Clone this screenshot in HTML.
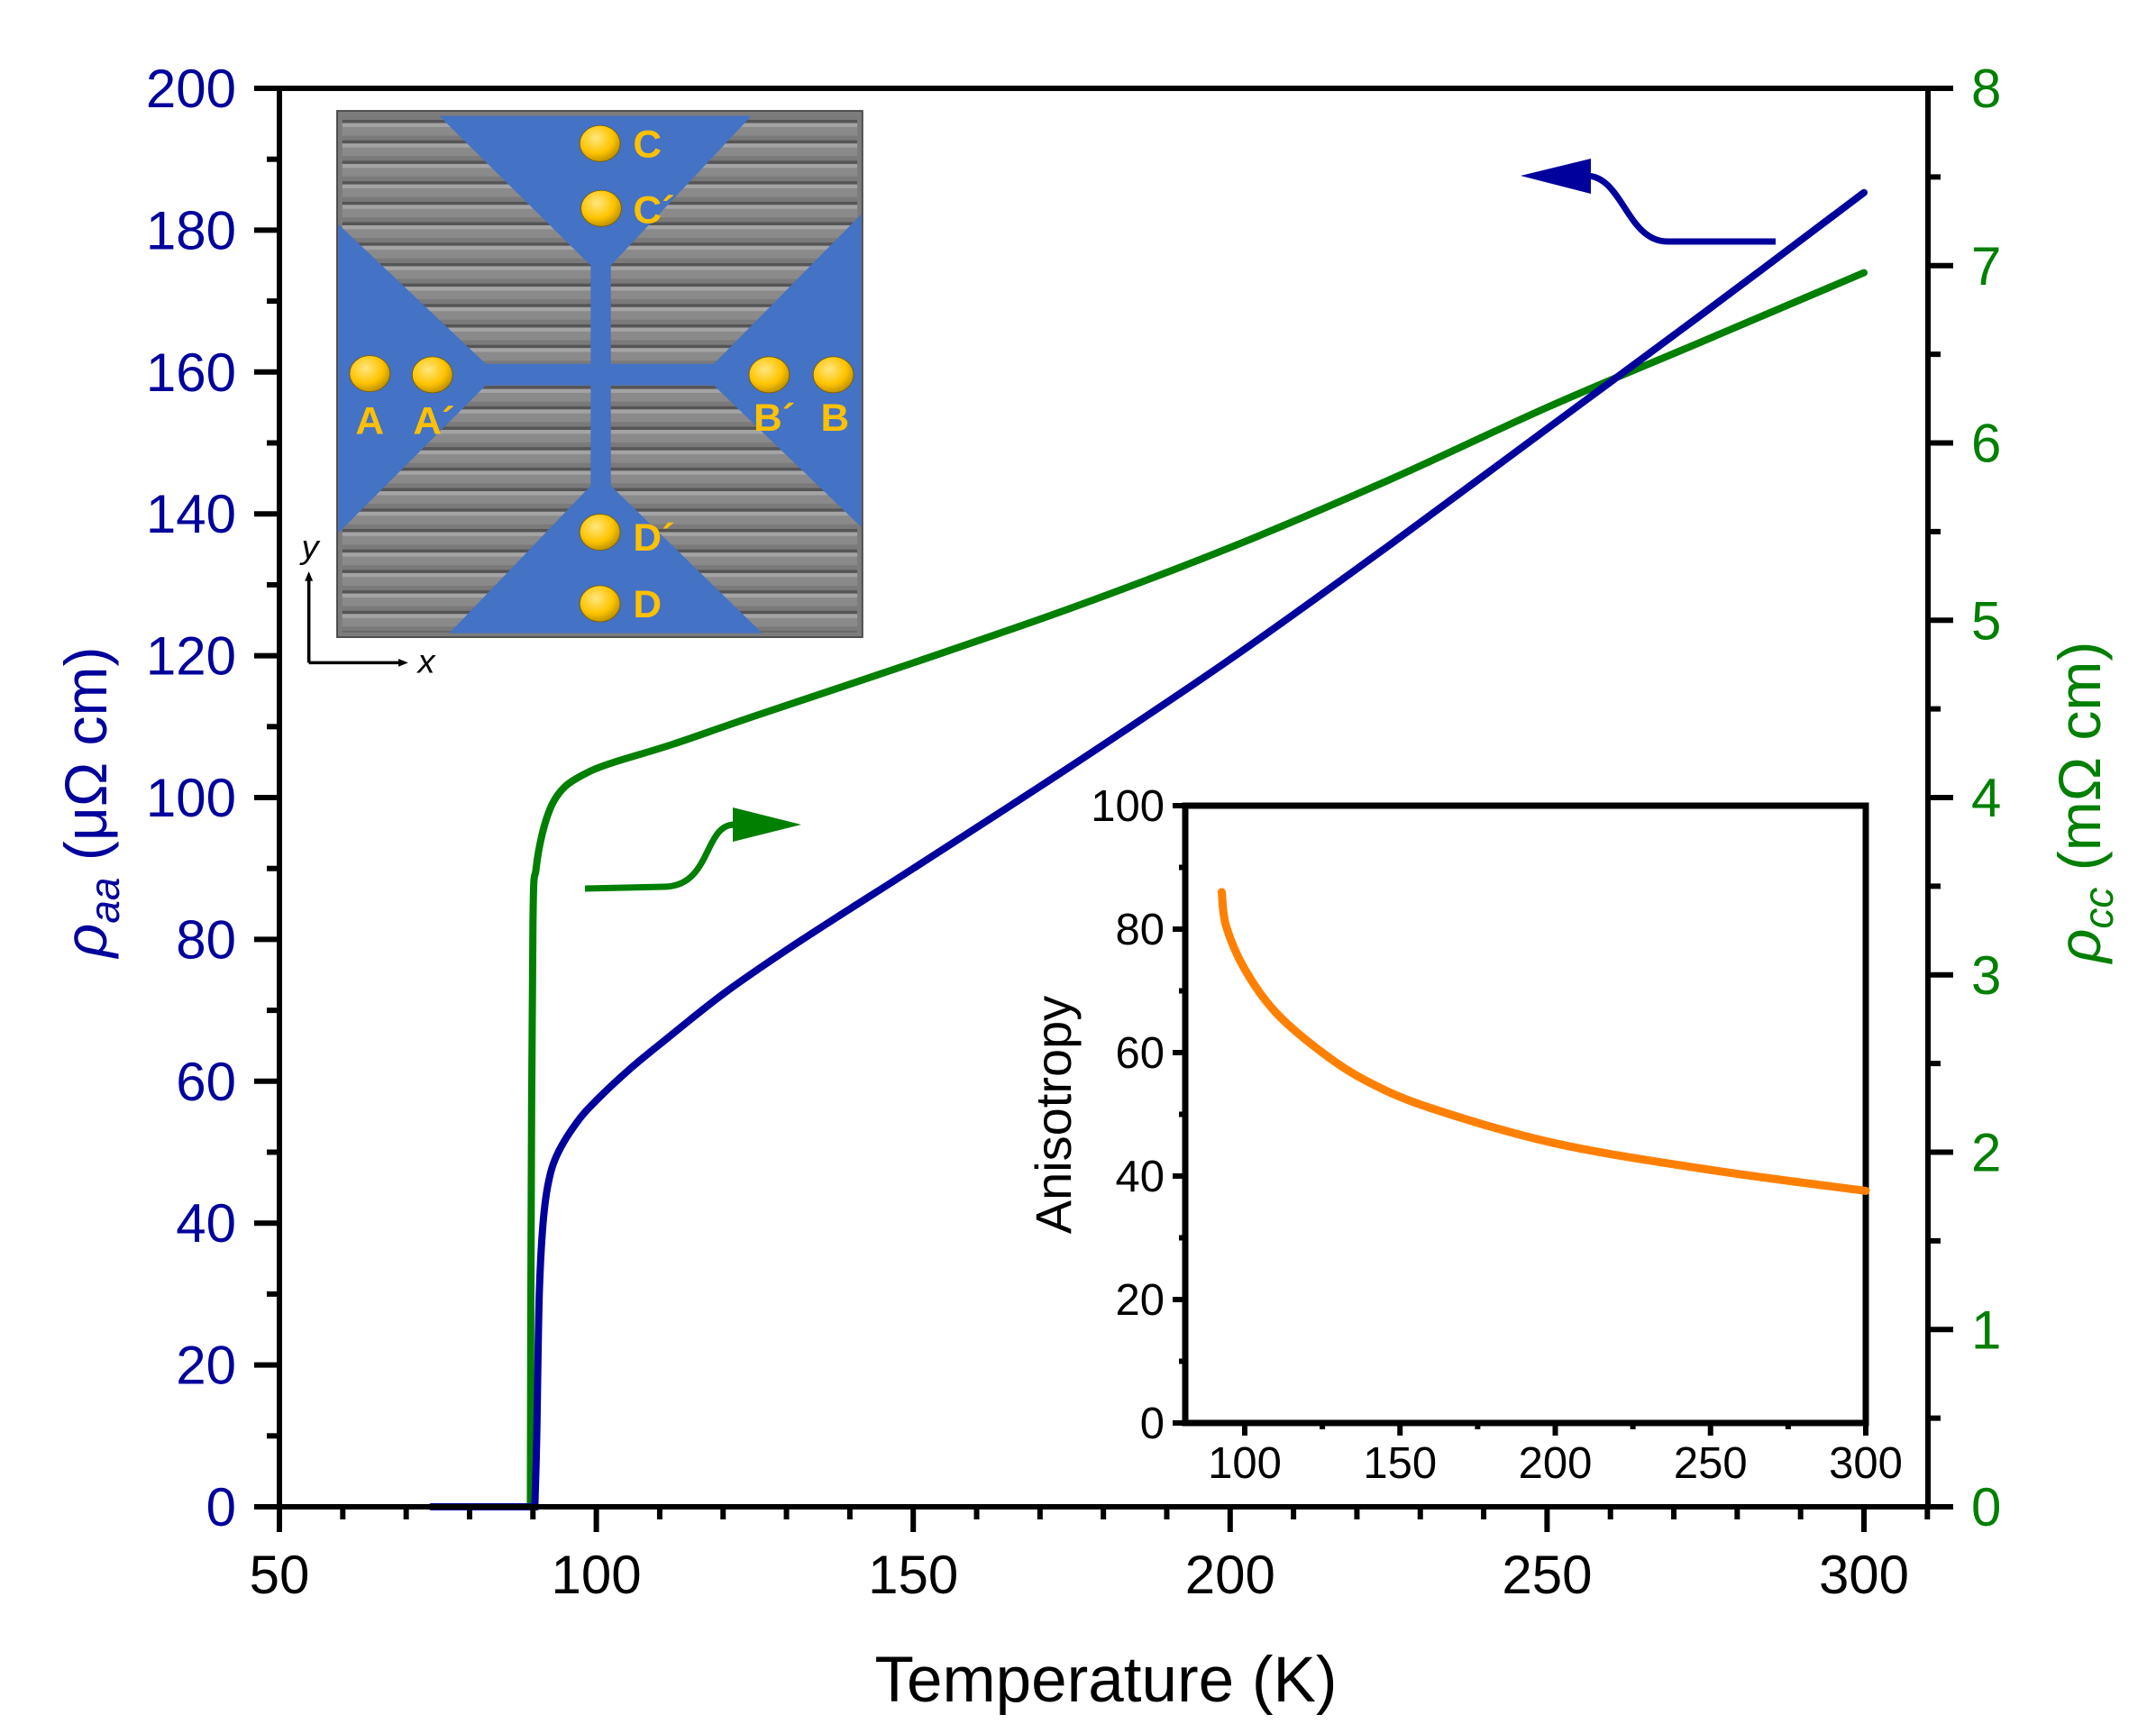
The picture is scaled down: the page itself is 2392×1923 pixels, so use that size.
<!DOCTYPE html>
<html><head><meta charset="utf-8"><style>
html,body{margin:0;padding:0;background:#fff}
svg{display:block}
text{font-family:"Liberation Sans",Arial,sans-serif}
</style></head><body>
<svg id="s" width="2392" height="1923" viewBox="0 0 2392 1923" xmlns="http://www.w3.org/2000/svg">
<defs>
<pattern id="stripes" patternUnits="userSpaceOnUse" x="0" y="120" width="40" height="52">
<rect width="40" height="52" fill="#8a8a8a"/>
<rect y="0" width="40" height="8" fill="#555"/>
<rect y="8" width="40" height="10" fill="#a4a4a4"/>
<rect y="40" width="40" height="12" fill="#7a7a7a"/>
</pattern>
<radialGradient id="gold" cx="0.4" cy="0.35" r="0.7">
<stop offset="0" stop-color="#ffe680"/><stop offset="0.6" stop-color="#ffc400"/><stop offset="1" stop-color="#b58a00"/>
</radialGradient>
</defs>

<g transform="translate(374,123) scale(0.448,0.4365) translate(-162,-97)">
<rect x="162" y="97" width="1301" height="1338" fill="#7c7c7c" stroke="#444" stroke-width="4"/>
<rect x="175" y="110" width="1275" height="1312" fill="url(#stripes)"/>
</g>
<g transform="translate(374,123) scale(0.448,0.4365) translate(-162,-97)" fill="#4472c4">
<polygon points="415,110 1188,110 840,490 790,490"/>
<rect x="790" y="480" width="50" height="580"/>
<polygon points="790,1050 840,1050 1215,1425 440,1425"/>
<polygon points="165,385 530,740 530,795 165,1170"/>
<rect x="520" y="740" width="585" height="55"/>
<polygon points="1460,360 1095,740 1095,795 1460,1155"/>
</g>
<g transform="translate(374,123) scale(0.448,0.4365) translate(-162,-97)">
<g fill="url(#gold)" stroke="#7a6000" stroke-width="2">
<ellipse cx="813" cy="180" rx="50" ry="46"/>
<ellipse cx="816" cy="345" rx="50" ry="46"/>
<ellipse cx="243" cy="765" rx="50" ry="46"/>
<ellipse cx="398" cy="768" rx="50" ry="46"/>
<ellipse cx="1232" cy="768" rx="50" ry="46"/>
<ellipse cx="1391" cy="768" rx="50" ry="46"/>
<ellipse cx="813" cy="1168" rx="50" ry="46"/>
<ellipse cx="813" cy="1350" rx="50" ry="46"/>
</g>
<g fill="#ffc000" font-weight="bold" font-size="98">
<text x="895" y="215">C</text>
<text x="895" y="382">C´</text>
<text x="243" y="918" text-anchor="middle">A</text>
<text x="402" y="918" text-anchor="middle">A´</text>
<text x="1245" y="910" text-anchor="middle">B´</text>
<text x="1395" y="910" text-anchor="middle">B</text>
<text x="895" y="1215">D´</text>
<text x="895" y="1385">D</text>
</g>
<g stroke="#000" stroke-width="8" fill="none">
<path d="M92,1500 V1285 M92,1500 H320"/>
</g>
<polygon points="92,1268 82,1292 102,1292" fill="#000"/>
<polygon points="338,1500 314,1490 314,1510" fill="#000"/>
<text x="95" y="1235" font-size="85" font-style="italic" text-anchor="middle">y</text>
<text x="383" y="1525" font-size="85" font-style="italic" text-anchor="middle">x</text>
</g>

<g id="curves"></g>

<rect x="310" y="98" width="1829" height="1574" fill="none" stroke="#000" stroke-width="6"/>
<g id="ticks" stroke="#000" stroke-width="6"></g>
<g id="labels"></g>

<path d="M1760,195 C1800,195 1805,268 1850,268 L1970,268" fill="none" stroke="#00009c" stroke-width="7"/>
<polygon points="1687,195 1765,176 1765,215" fill="#00009c"/>
<path d="M649,986 L736,984 C790,984 780,915 815,915" fill="none" stroke="#007f00" stroke-width="7"/>
<polygon points="889,915 813,896 813,934" fill="#007f00"/>

<text x="1227" y="1888" font-size="71" text-anchor="middle">Temperature (K)</text>
<text transform="translate(118,890) rotate(-90)" font-size="66" fill="#00009c" text-anchor="middle"><tspan font-style="italic">ρ</tspan><tspan font-style="italic" font-size="46" dy="14">aa</tspan><tspan dy="-14"> (μΩ cm)</tspan></text>
<text transform="translate(2330,890) rotate(-90)" font-size="66" fill="#007f00" text-anchor="middle"><tspan font-style="italic">ρ</tspan><tspan font-style="italic" font-size="46" dy="14">cc</tspan><tspan dy="-14"> (mΩ cm)</tspan></text>

<rect x="1315" y="894" width="755" height="685" fill="none" stroke="#000" stroke-width="7"/>
<text transform="translate(1188,1237) rotate(-90)" font-size="56" text-anchor="middle">Anisotropy</text>
<g id="itick" stroke="#000" stroke-width="6"></g>
<g id="ilab" font-size="49"></g>
<path id="orange" fill="none" stroke="#ff8000" stroke-width="9" stroke-linecap="round"/>
</svg>
<script>
const NS="http://www.w3.org/2000/svg";
function el(t,a,p,txt){const e=document.createElementNS(NS,t);for(const k in a)e.setAttribute(k,a[k]);if(txt!==undefined)e.textContent=txt;document.getElementById(p).appendChild(e);return e;}
const X=T=>310+(T-50)*7.032, Ya=r=>1672-r*7.87, Yc=r=>1672-r*196.75;
for(let T=50;T<=310;T+=10){const maj=(T%50==0);el('line',{x1:X(T),x2:X(T),y1:1672,y2:1672+(maj?28:14)},'ticks');
 if(maj&&T<=300)el('text',{x:X(T),y:1768,'font-size':60,'text-anchor':'middle'},'labels',T);}
for(let r=0;r<=200;r+=10){const maj=r%20==0;el('line',{x1:310,x2:310-(maj?28:14),y1:Ya(r),y2:Ya(r)},'ticks');
 if(maj)el('text',{x:262,y:Ya(r)+21,'font-size':60,'text-anchor':'end',fill:'#00009c'},'labels',r);}
for(let r=0;r<=8;r+=0.5){const maj=r%1==0;el('line',{x1:2139,x2:2139+(maj?28:14),y1:Yc(r),y2:Yc(r)},'ticks');
 if(maj)el('text',{x:2187,y:Yc(r)+21,'font-size':60,fill:'#007f00'},'labels',r);}
const Xi=T=>1381+(T-100)*3.445, Yi=a=>1579-a*6.85;
for(let T=100;T<=300;T+=25){const maj=T%50==0;el('line',{x1:Xi(T),x2:Xi(T),y1:1579,y2:1579+(maj?14:7)},'itick');
 if(maj)el('text',{x:Xi(T),y:1640,'text-anchor':'middle'},'ilab',T);}
for(let a=0;a<=100;a+=10){const maj=a%20==0;el('line',{x1:1315,x2:1315-(maj?14:7),y1:Yi(a),y2:Yi(a)},'itick');
 if(maj)el('text',{x:1292,y:Yi(a)+17,'text-anchor':'end'},'ilab',a);}
function cr(pts){let d='M'+pts[0][0]+','+pts[0][1];for(let i=0;i<pts.length-1;i++){const p0=pts[i-1]||pts[i],p1=pts[i],p2=pts[i+1],p3=pts[i+2]||p2;
 const c1=[p1[0]+(p2[0]-p0[0])/6,p1[1]+(p2[1]-p0[1])/6],c2=[p2[0]-(p3[0]-p1[0])/6,p2[1]-(p3[1]-p1[1])/6];
 d+=` C${c1[0].toFixed(1)},${c1[1].toFixed(1)} ${c2[0].toFixed(1)},${c2[1].toFixed(1)} ${p2[0].toFixed(1)},${p2[1].toFixed(1)}`;}return d;}
const g=[[89.6,0],[89.7,1.5],[90.0,3.3],[90.5,3.6],[91.5,3.8],[93,3.96],[95,4.06],[98,4.13],[102,4.19],[112,4.3],[125,4.46],[150,4.76],[175,5.07],[200,5.41],[225,5.79],[250,6.2],[275,6.58],[300,6.96]];
el('path',{d:cr(g.map(p=>[X(p[0]),Yc(p[1])])),fill:'none',stroke:'#007f00','stroke-width':8,'stroke-linecap':'round'},'curves');
const b=[[90.3,0],[90.6,10],[91,30],[91.6,40],[92.5,46],[94,50],[97,54.3],[100,57.3],[105,61.5],[110,65.2],[120,72.3],[130,78.5],[140,84.3],[150,90],[175,104.5],[200,119.5],[225,135.5],[250,152],[275,168.5],[300,185.3]];
const bp=b.map(p=>[X(p[0]),Ya(p[1])]);
el('path',{d:'M'+X(74)+','+Ya(0)+' L'+cr(bp).slice(1),fill:'none',stroke:'#00009c','stroke-width':8,'stroke-linecap':'round'},'curves');
const o=[[92.6,86],[94,80.5],[100,73.5],[110,66.5],[125,60],[140,55.2],[160,51],[200,45.3],[250,41],[300,37.6]];
document.getElementById('orange').setAttribute('d',cr(o.map(p=>[Xi(p[0]),Yi(p[1])])));
</script>
</body></html>
